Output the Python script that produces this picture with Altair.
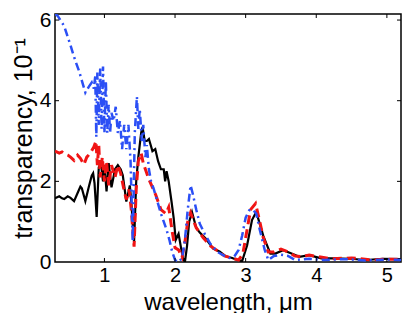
import altair as alt
import pandas as pd

x_ticks = [1, 2, 3, 4, 5]
y_ticks = [0, 2, 4, 6]
y_inner_ticks = [2, 4, 6]

black = [(0.30,1.58),(0.36,1.63),(0.40,1.58),(0.43,1.56),(0.48,1.63),(0.52,1.59),(0.57,1.51),
         (0.62,1.71),(0.66,1.87),(0.68,1.83),(0.73,1.51),(0.78,1.87),(0.82,2.14),(0.84,2.20),
         (0.86,1.95),(0.89,1.12),(0.92,2.35),(0.95,2.45),(0.98,2.00),(1.00,2.40),(1.03,1.75),
         (1.06,2.45),(1.10,1.85),(1.15,2.30),(1.19,2.40),(1.23,2.30),(1.26,2.15),(1.31,1.50),
         (1.36,1.90),(1.38,1.50),(1.42,0.50),(1.45,2.00),(1.48,2.60),(1.52,3.20),(1.54,3.35),
         (1.57,3.00),(1.60,3.00),(1.63,3.05),(1.68,2.75),(1.72,2.80),(1.76,2.50),(1.80,2.30),
         (1.84,2.30),(1.86,2.00),(1.88,2.25),(1.91,2.00),(1.95,1.50),(1.98,1.10),(2.01,0.55),
         (2.05,0.70),(2.08,0.40),(2.11,0.10),(2.14,0.00),(2.17,0.40),(2.20,1.00),(2.24,1.24),
         (2.30,0.85),(2.35,0.73),(2.44,0.57),(2.54,0.33),(2.63,0.26),(2.72,0.14),(2.81,0.10),
         (2.88,0.05),(2.95,0.02),(3.02,0.41),(3.09,1.04),(3.15,1.24),(3.25,0.65),(3.35,0.21),
         (3.42,0.21),(3.53,0.29),(3.65,0.21),(3.76,0.13),(3.90,0.17),(4.07,0.09),(4.25,0.09),
         (4.48,0.08),(4.71,0.05),(4.94,0.08),(5.20,0.07)]

red = [(0.30,2.75),(0.36,2.70),(0.40,2.73),(0.44,2.68),(0.48,2.65),(0.52,2.60),(0.57,2.52),
       (0.62,2.65),(0.66,2.57),(0.71,2.42),(0.75,2.60),(0.80,2.70),(0.85,2.85),(0.88,3.00),
       (0.90,2.40),(0.92,2.90),(0.94,2.10),(0.97,2.60),(1.00,2.00),(1.03,2.50),(1.06,1.90),
       (1.10,2.40),(1.15,2.10),(1.19,2.40),(1.23,2.20),(1.27,1.85),(1.31,1.55),(1.35,1.80),
       (1.38,1.30),(1.42,0.38),(1.45,1.80),(1.48,2.50),(1.52,2.70),(1.55,2.45),(1.58,2.30),
       (1.63,2.05),(1.68,1.85),(1.73,1.65),(1.80,1.30),(1.87,1.20),(1.91,1.36),(1.96,0.75),
       (2.00,0.35),(2.05,0.30),(2.10,0.12),(2.14,0.50),(2.18,1.00),(2.22,1.22),(2.30,0.85),
       (2.40,0.60),(2.50,0.40),(2.60,0.28),(2.70,0.15),(2.80,0.10),(2.90,0.05),(2.96,0.20),
       (3.02,0.80),(3.07,1.30),(3.14,1.45),(3.20,1.00),(3.25,0.60),(3.32,0.25),(3.40,0.25),
       (3.50,0.32),(3.60,0.25),(3.70,0.15),(3.80,0.13),(3.90,0.17),(4.00,0.14),(4.20,0.08),
       (4.50,0.10),(4.80,0.05),(5.00,0.07),(5.20,0.07)]

blue = [(0.30,6.15),(0.34,6.10),(0.43,5.85),(0.52,5.37),(0.55,5.20),(0.59,4.98),(0.64,4.74),
        (0.68,4.50),(0.73,4.20),(0.78,4.35),(0.82,4.45),(0.85,4.30),(0.87,4.60),(0.885,3.10),
        (0.90,4.70),(0.92,3.40),(0.94,4.80),(0.96,3.30),(0.98,4.85),(1.00,3.20),(1.02,4.50),
        (1.04,3.20),(1.06,3.90),(1.08,3.20),(1.10,3.70),(1.13,3.50),(1.16,3.85),(1.19,3.20),
        (1.22,3.50),(1.25,2.80),(1.28,3.40),(1.31,2.80),(1.34,3.40),(1.37,2.50),(1.40,0.50),
        (1.43,3.20),(1.46,4.10),(1.48,3.30),(1.50,3.80),(1.53,3.00),(1.55,3.40),(1.58,2.60),
        (1.60,2.90),(1.63,2.30),(1.66,2.00),(1.70,1.80),(1.75,1.50),(1.80,1.20),(1.84,1.00),
        (1.88,0.80),(1.92,0.55),(1.96,0.25),(2.00,0.05),(2.05,0.00),(2.10,0.10),(2.14,0.55),
        (2.18,1.30),(2.22,1.90),(2.25,1.70),(2.30,1.30),(2.35,0.95),(2.42,0.70),(2.50,0.45),
        (2.60,0.25),(2.70,0.15),(2.77,0.10),(2.84,0.14),(2.90,0.30),(2.95,0.65),(3.00,1.10),
        (3.05,1.28),(3.10,1.30),(3.15,1.20),(3.20,0.80),(3.27,0.30),(3.32,0.05),(3.40,0.15),
        (3.50,0.18),(3.60,0.15),(3.70,0.05),(3.90,0.08),(4.10,0.05),(4.40,0.07),(4.70,0.04),
        (5.00,0.06),(5.20,0.05)]

W, H = 346, 248
FONT = "Liberation Sans"

xs = alt.Scale(domain=[0.3, 5.2], nice=False, zero=False)
ys = alt.Scale(domain=[0, 6.15], nice=False, zero=False)

xax = alt.Axis(values=x_ticks, title="wavelength, μm", ticks=False, domain=False, grid=False,
               labelPadding=3, labelFontSize=20, titleFontSize=24,
               titleY=47, titleBaseline="alphabetic", format="d")
yax = alt.Axis(values=y_ticks, title="transparency, 10⁻¹", ticks=False, domain=False, grid=False,
               labelPadding=4, titlePadding=3, format="d")


def line(pts, color, width, dash=None):
    df = pd.DataFrame(pts, columns=["x", "y"])
    kw = dict(color=color, strokeWidth=width, clip=True)
    if dash:
        kw["strokeDash"] = dash
    return alt.Chart(df).mark_line(**kw).encode(
        x=alt.X("x:Q", scale=xs, axis=xax),
        y=alt.Y("y:Q", scale=ys, axis=yax),
    )


xt = pd.DataFrame({"t": x_ticks})
yt = pd.DataFrame({"t": y_inner_ticks})

tick_bottom = alt.Chart(xt).mark_rule(color="black", strokeWidth=1).encode(
    x=alt.X("t:Q", scale=xs, axis=xax), y=alt.value(H), y2=alt.value(H - 4))
tick_top = alt.Chart(xt).mark_rule(color="black", strokeWidth=1).encode(
    x=alt.X("t:Q", scale=xs, axis=xax), y=alt.value(0), y2=alt.value(4))
tick_left = alt.Chart(yt).mark_rule(color="black", strokeWidth=1).encode(
    y=alt.Y("t:Q", scale=ys, axis=yax), x=alt.value(0), x2=alt.value(4))
tick_right = alt.Chart(yt).mark_rule(color="black", strokeWidth=1).encode(
    y=alt.Y("t:Q", scale=ys, axis=yax), x=alt.value(W), x2=alt.value(W - 4))

chart = alt.layer(
    line(black, "#000000", 2.2),
    line(red, "#f01414", 3, [9, 5]),
    line(blue, "#2b4ff5", 2.5, [8, 4, 2, 4]),
    tick_bottom, tick_top, tick_left, tick_right,
).properties(
    width=W, height=H,
    autosize=alt.AutoSizeParams(type="none"),
    padding={"left": 47, "top": 6, "right": 2, "bottom": 51},
).configure_view(
    stroke="black", strokeWidth=1.5
).configure_axis(
    labelFont=FONT, titleFont=FONT, labelFontSize=21, titleFontSize=25,
    titleFontWeight="normal", labelColor="black", titleColor="black",
)

chart.save("out.html", embed_options={"renderer": "svg", "actions": False})
